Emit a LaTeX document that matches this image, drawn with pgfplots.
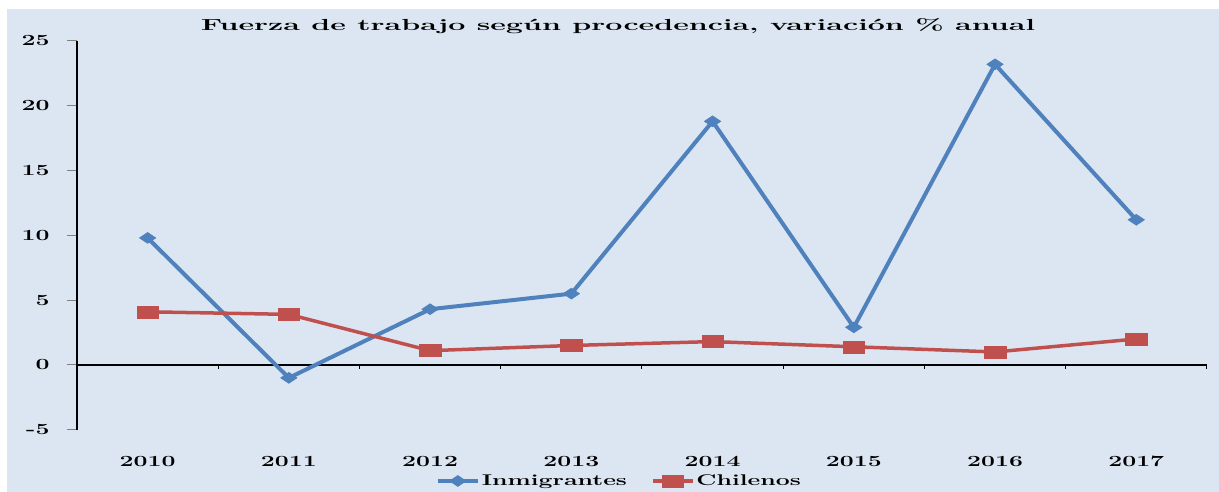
\documentclass[border=0pt]{standalone}
\usepackage{fontspec}
\setmainfont{Latin Modern Roman}[FakeStretch=1.6]
\newfontfamily\titlefont{Latin Modern Roman}[FakeStretch=1.9]
\usepackage{pgfplots}
\pgfplotsset{compat=1.18}
\definecolor{bg}{RGB}{220,230,242}
\definecolor{cblue}{RGB}{79,129,189}
\definecolor{cred}{RGB}{192,80,77}
\newcommand{\lbl}{\bfseries\fontsize{15.5}{17}\selectfont}
\begin{document}
\begin{tikzpicture}[x=1pt,y=1pt]
\path[use as bounding box] (0,0) rectangle (1219,492);
\fill[white] (0,0) rectangle (1219,492);
\fill[bg] (7,0) rectangle (1219,483);
\node[font=\titlefont\bfseries\fontsize{16}{18}\selectfont] at (618,466) {Fuerza de trabajo según procedencia, variación \% anual};
\begin{axis}[
  at={(77pt,62.3pt)}, anchor=south west,
  scale only axis, width=1130pt, height=388.7pt,
  xmin=-0.5, xmax=7.5, ymin=-5, ymax=25,
  clip=false,
  axis y line*=left, axis x line*=bottom,
  x axis line style={draw=none},
  y axis line style={black, line width=1.5pt},
  tick align=outside,
  major tick length=10pt,
  ytick={-5,0,5,10,15,20,25},
  yticklabels={-5,0,5,10,15,20,25},
  ytick style={gray, line width=1pt},
  yticklabel style={font=\lbl, xshift=-14pt},
  xtick={0,1,2,3,4,5,6,7},
  xticklabels={2010,2011,2012,2013,2014,2015,2016,2017},
  xtick style={draw=none},
  xticklabel style={font=\lbl, yshift=-13pt},
  legend columns=2,
  legend style={at={(rel axis cs:0.48,-0.132)}, anchor=center, draw=none, fill=none, font=\lbl,
    /tikz/every even column/.append style={column sep=22pt}},
  legend image code/.code={\draw[mark repeat=2,mark phase=2] plot coordinates {(0pt,0pt)(20pt,0pt)(40pt,0pt)};},
]
\draw[black, line width=1.5pt] (axis cs:-0.5,0) -- (axis cs:7.5,0);
\pgfplotsinvokeforeach{0.5,1.5,2.5,3.5,4.5,5.5,6.5,7.5}{
  \draw[black, line width=1pt] (axis cs:#1,0) -- ++(0pt,-4pt);
}
\addplot[cblue, line width=4pt, mark=diamond*, mark size=5.5pt, mark options={xscale=2, line width=0.5pt, fill=cblue}]
  coordinates {(0,9.8) (1,-1.0) (2,4.3) (3,5.5) (4,18.8) (5,2.9) (6,23.2) (7,11.2)};
\addlegendentry{Inmigrantes}
\addplot[cred, line width=3.5pt, mark=square*, mark size=6pt, mark options={xscale=1.8, line width=0.5pt, fill=cred}]
  coordinates {(0,4.1) (1,3.9) (2,1.1) (3,1.5) (4,1.8) (5,1.4) (6,1.0) (7,2.0)};
\addlegendentry{Chilenos}
\end{axis}
\end{tikzpicture}
\end{document}
